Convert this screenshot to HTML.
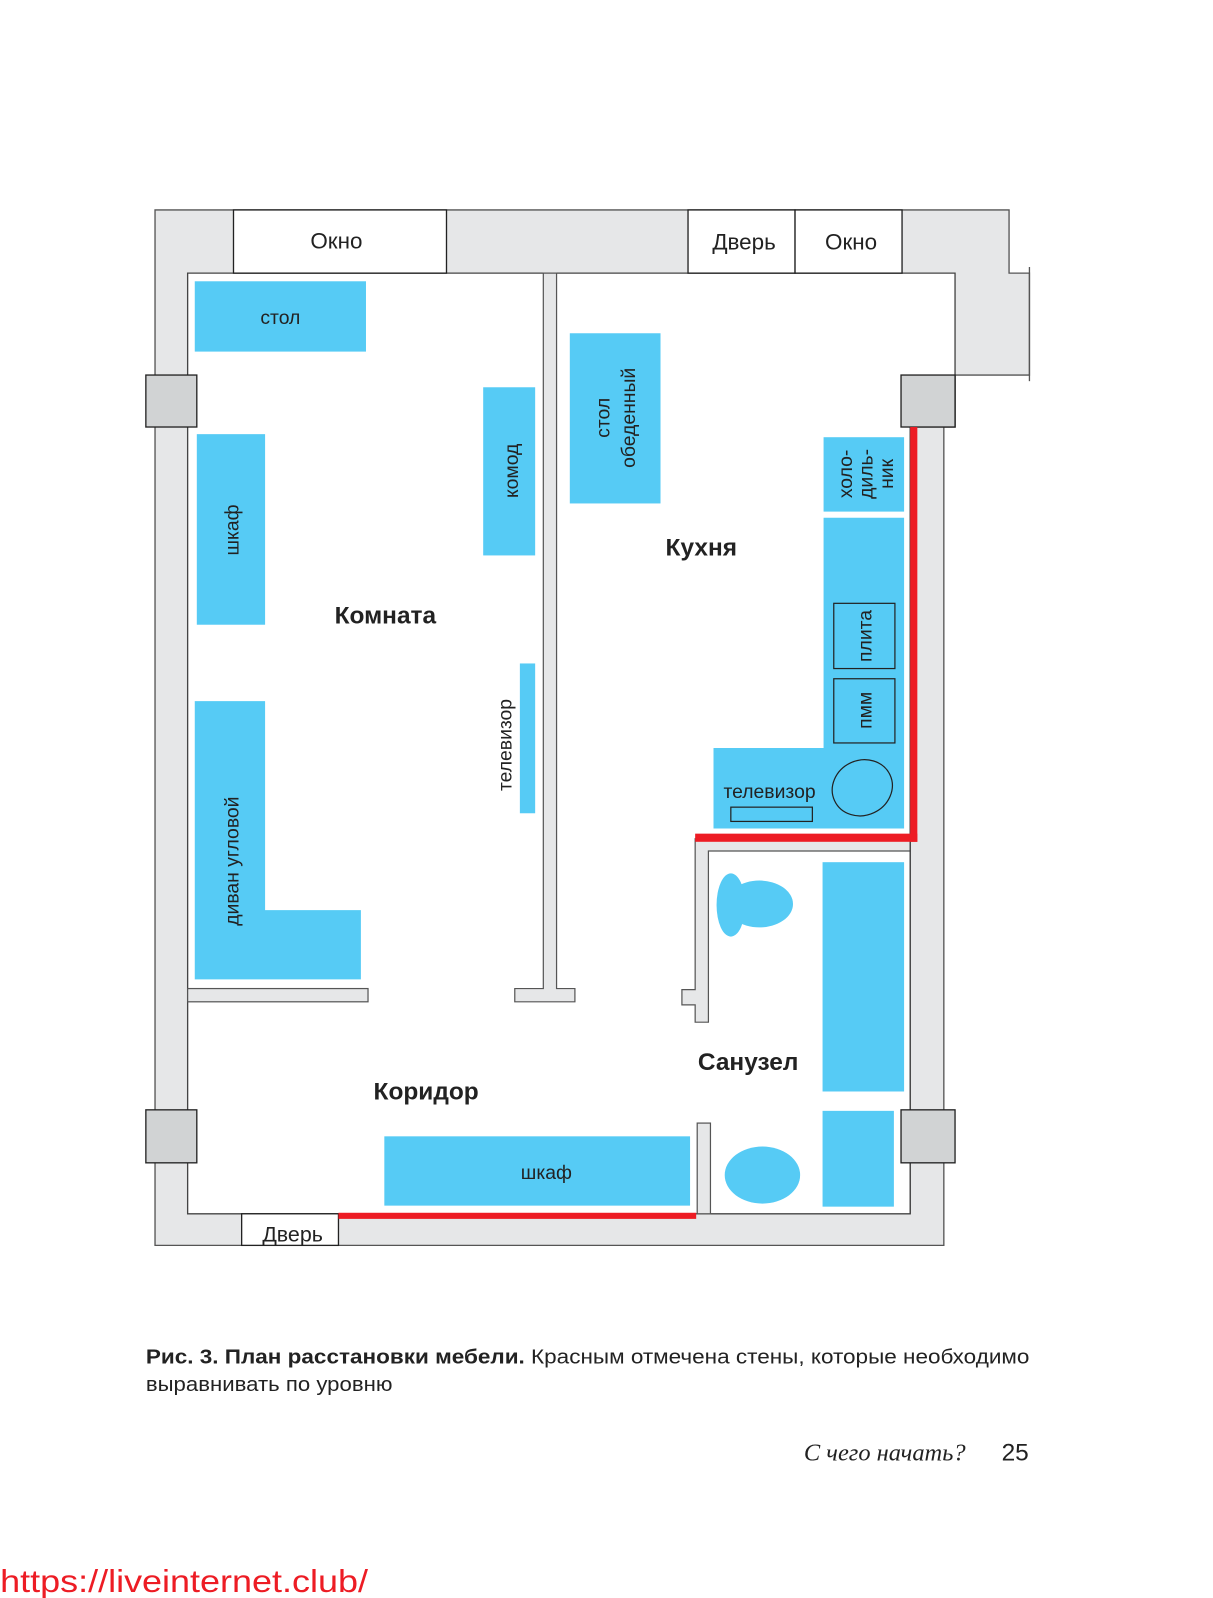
<!DOCTYPE html>
<html><head><meta charset="utf-8"><style>
html,body{margin:0;padding:0;background:#fff;}
svg{display:block;}
</style></head><body>
<svg width="1213" height="1598" viewBox="0 0 1190 1568" xmlns="http://www.w3.org/2000/svg" font-family="Liberation Sans, sans-serif">
<rect x="0" y="0" width="1190" height="1568" fill="#fff"/>
<!-- outer gray -->
<path d="M152,206 H990 V268 H1010 V368 H937 V419 H926 V1222 H152 Z" fill="#e6e7e8" stroke="#555" stroke-width="1.3"/>
<line x1="1010" y1="262" x2="1010" y2="374" stroke="#555" stroke-width="1.3"/>
<!-- interior -->
<path d="M184,268 H937 V419 H893 V1191 H184 Z" fill="#fff" stroke="#444" stroke-width="1.3"/>
<!-- partitions -->
<path d="M533,268 H546 V970 H564 V983 H505 V970 H533 Z" fill="#e6e7e8" stroke="#555" stroke-width="1.2"/>
<rect x="184" y="970" width="177" height="13" fill="#e6e7e8" stroke="#555" stroke-width="1.2"/>
<path d="M682,823 H893 V835 H695 V1003 H682 V986 H669 V971 H682 Z" fill="#e6e7e8" stroke="#555" stroke-width="1.2"/>
<rect x="684" y="1102" width="13" height="89" fill="#e6e7e8" stroke="#555" stroke-width="1.2"/>
<line x1="893" y1="419" x2="893" y2="1191" stroke="#444" stroke-width="1.3"/>
<!-- columns -->
<g fill="#d1d3d4" stroke="#222" stroke-width="1.3">
<rect x="143" y="368" width="50" height="51"/>
<rect x="143" y="1089" width="50" height="52"/>
<rect x="884" y="1089" width="53" height="52"/>
<rect x="884" y="368" width="53" height="51"/>
</g>
<!-- windows/doors -->
<g fill="#fff" stroke="#222" stroke-width="1.3">
<rect x="229" y="206" width="209" height="62"/>
<rect x="675" y="206" width="105" height="62"/>
<rect x="780" y="206" width="105" height="62"/>
<rect x="237" y="1191" width="95" height="31"/>
</g>
<g font-size="22" fill="#222" text-anchor="middle">
<text x="330" y="244">Окно</text>
<text x="730" y="245">Дверь</text>
<text x="835" y="245">Окно</text>
<text x="287" y="1218" font-size="21">Дверь</text>
</g>
<!-- red lines -->
<g fill="#ed1c24">
<rect x="893" y="419" width="7" height="407"/>
<rect x="682" y="818" width="218" height="8"/>
<rect x="332" y="1190" width="351" height="6"/>
</g>
<!-- furniture -->
<g fill="#56cbf5">
<rect x="191" y="276" width="168" height="69"/>
<rect x="193" y="426" width="67" height="187"/>
<path d="M191,688 H260 V893 H354 V961 H191 Z"/>
<rect x="474" y="380" width="51" height="165"/>
<rect x="510" y="651" width="15" height="147"/>
<rect x="559" y="327" width="89" height="167"/>
<rect x="808" y="429" width="79" height="73"/>
<path d="M808,508 H887 V813 H700 V734 H808 Z"/>
<rect x="807" y="846" width="80" height="225"/>
<rect x="807" y="1090" width="70" height="94"/>
<rect x="377" y="1115" width="300" height="68"/>
<ellipse cx="748" cy="1153" rx="37" ry="28"/>
<ellipse cx="745" cy="887" rx="33" ry="23"/>
<ellipse cx="717" cy="888" rx="14" ry="31"/>
</g>
<g fill="none" stroke="#222" stroke-width="1.2">
<rect x="818" y="592" width="60" height="64"/>
<rect x="818" y="666" width="60" height="63"/>
<rect x="717" y="792" width="80" height="14"/>
<ellipse cx="846" cy="773" rx="30" ry="27" transform="rotate(-25 846 773)"/>
</g>
<!-- furniture labels -->
<g font-size="19" fill="#222" text-anchor="middle">
<text x="275" y="318">стол</text>
<text transform="translate(234,520) rotate(-90)">шкаф</text>
<text transform="translate(234,845) rotate(-90)">диван угловой</text>
<text transform="translate(508,462) rotate(-90)">комод</text>
<text transform="translate(502,731) rotate(-90)">телевизор</text>
<text transform="translate(598,410) rotate(-90)">стол</text>
<text transform="translate(623,410) rotate(-90)">обеденный</text>
<text transform="translate(836,465) rotate(-90)">холо-</text>
<text transform="translate(856,465) rotate(-90)">диль-</text>
<text transform="translate(876,465) rotate(-90)">ник</text>
<text transform="translate(855,624) rotate(-90)">плита</text>
<text transform="translate(855,697) rotate(-90)">пмм</text>
<text x="755" y="783">телевизор</text>
<text x="536" y="1157">шкаф</text>
</g>
<!-- room labels -->
<g font-size="24" font-weight="bold" fill="#222" text-anchor="middle">
<text x="378" y="612">Комната</text>
<text x="688" y="545">Кухня</text>
<text x="418" y="1079">Коридор</text>
<text x="734" y="1050">Санузел</text>
</g>
<!-- caption -->
<text x="143" y="1338" font-size="20" fill="#222" font-family="Liberation Sans Narrow, Liberation Sans, sans-serif" textLength="867" lengthAdjust="spacingAndGlyphs"><tspan font-weight="bold">Рис. 3. План расстановки мебели.</tspan> Красным отмечена стены, которые необходимо</text>
<text x="143" y="1365" font-size="20" fill="#222" font-family="Liberation Sans Narrow, Liberation Sans, sans-serif" textLength="242" lengthAdjust="spacingAndGlyphs">выравнивать по уровню</text>
<text x="868" y="1433" font-size="24" font-style="italic" font-family="Liberation Serif, serif" fill="#222" text-anchor="middle">С чего начать?</text>
<text x="996" y="1433" font-size="24" fill="#222" text-anchor="middle">25</text>
<text x="0" y="1562" font-size="31" fill="#ed1c24" textLength="361" lengthAdjust="spacingAndGlyphs">https://liveinternet.club/</text>
</svg>
</body></html>
